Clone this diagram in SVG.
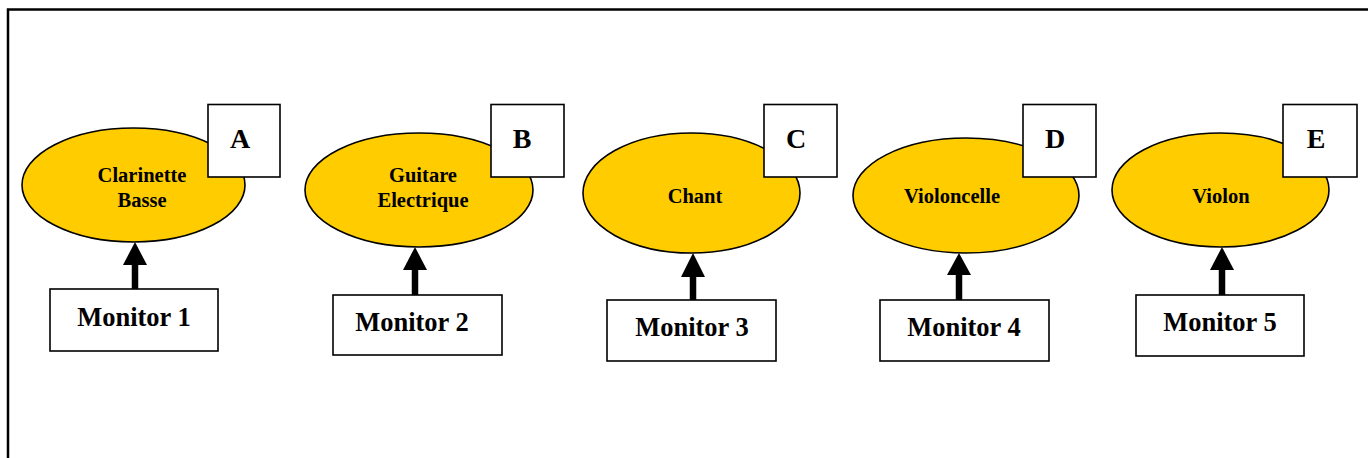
<svg xmlns="http://www.w3.org/2000/svg" width="1368" height="458" viewBox="0 0 1368 458">
<style>
.bg{fill:#fff}
.frame{fill:none;stroke:#000;stroke-width:2.5}
.ell{fill:#ffcc00;stroke:#000;stroke-width:1.6}
.box{fill:#fff;stroke:#000;stroke-width:1.6}
.lab{font-family:"Liberation Serif","Times New Roman",serif;font-weight:bold;font-size:20.5px;text-anchor:middle;fill:#000}
.mon{font-family:"Liberation Serif","Times New Roman",serif;font-weight:bold;font-size:26.5px;text-anchor:middle;fill:#000}
.let{font-family:"Liberation Serif","Times New Roman",serif;font-weight:bold;font-size:28px;text-anchor:middle;fill:#000}
.shaft{stroke:#000;stroke-width:6.5;fill:none}
.head{fill:#000}
</style>
<rect class="bg" x="0" y="0" width="1368" height="458"/>
<path class="frame" d="M8,458 V9.5 H1368"/>
<g id="connectors">
  <line class="shaft" x1="135" y1="289" x2="135" y2="262"/>
  <polygon class="head" points="123,265 147,265 135,242"/>
  <line class="shaft" x1="415" y1="295" x2="415" y2="267"/>
  <polygon class="head" points="403,270 427,270 415,247"/>
  <line class="shaft" x1="693" y1="300" x2="693" y2="274"/>
  <polygon class="head" points="681,277 705,277 693,253"/>
  <line class="shaft" x1="959" y1="300" x2="959" y2="272"/>
  <polygon class="head" points="947,275 971,275 959,253"/>
  <line class="shaft" x1="1222" y1="295" x2="1222" y2="267"/>
  <polygon class="head" points="1210,270 1234,270 1222,247"/>
</g>
<g id="node-clarinette">
  <ellipse class="ell" cx="133.5" cy="185" rx="111.5" ry="57"/>
  <text class="lab" x="142" y="182">Clarinette</text>
  <text class="lab" x="142" y="207">Basse</text>
</g>
<g id="label-A"><rect class="box" x="208" y="104.5" width="72" height="72.5"/><text class="let" x="240" y="148">A</text></g>
<g id="monitor-1"><rect class="box" x="50" y="289" width="168" height="62"/><text class="mon" x="134" y="326">Monitor 1</text></g>
<g id="node-guitare">
  <ellipse class="ell" cx="419" cy="190" rx="114" ry="57"/>
  <text class="lab" x="423" y="182">Guitare</text>
  <text class="lab" x="423" y="207">Electrique</text>
</g>
<g id="label-B"><rect class="box" x="491" y="104.5" width="73" height="72.5"/><text class="let" x="522" y="148">B</text></g>
<g id="monitor-2"><rect class="box" x="333" y="295" width="169" height="60"/><text class="mon" x="412" y="331">Monitor 2</text></g>
<g id="node-chant">
  <ellipse class="ell" cx="691.5" cy="193" rx="108.5" ry="60"/>
  <text class="lab" x="695" y="203">Chant</text>
</g>
<g id="label-C"><rect class="box" x="764" y="104.5" width="73" height="72.5"/><text class="let" x="796" y="148">C</text></g>
<g id="monitor-3"><rect class="box" x="607" y="300" width="169" height="61"/><text class="mon" x="692" y="336">Monitor 3</text></g>
<g id="node-violoncelle">
  <ellipse class="ell" cx="966" cy="195.5" rx="113" ry="57.5"/>
  <text class="lab" x="952" y="203">Violoncelle</text>
</g>
<g id="label-D"><rect class="box" x="1023" y="104.5" width="73" height="72.5"/><text class="let" x="1055" y="148">D</text></g>
<g id="monitor-4"><rect class="box" x="880" y="300" width="169" height="61"/><text class="mon" x="964" y="336">Monitor 4</text></g>
<g id="node-violon">
  <ellipse class="ell" cx="1220.5" cy="190" rx="108.5" ry="57"/>
  <text class="lab" x="1221" y="203">Violon</text>
</g>
<g id="label-E"><rect class="box" x="1283" y="104.5" width="74" height="72.5"/><text class="let" x="1316" y="148">E</text></g>
<g id="monitor-5"><rect class="box" x="1136" y="295" width="168" height="61"/><text class="mon" x="1220" y="331">Monitor 5</text></g>
</svg>
